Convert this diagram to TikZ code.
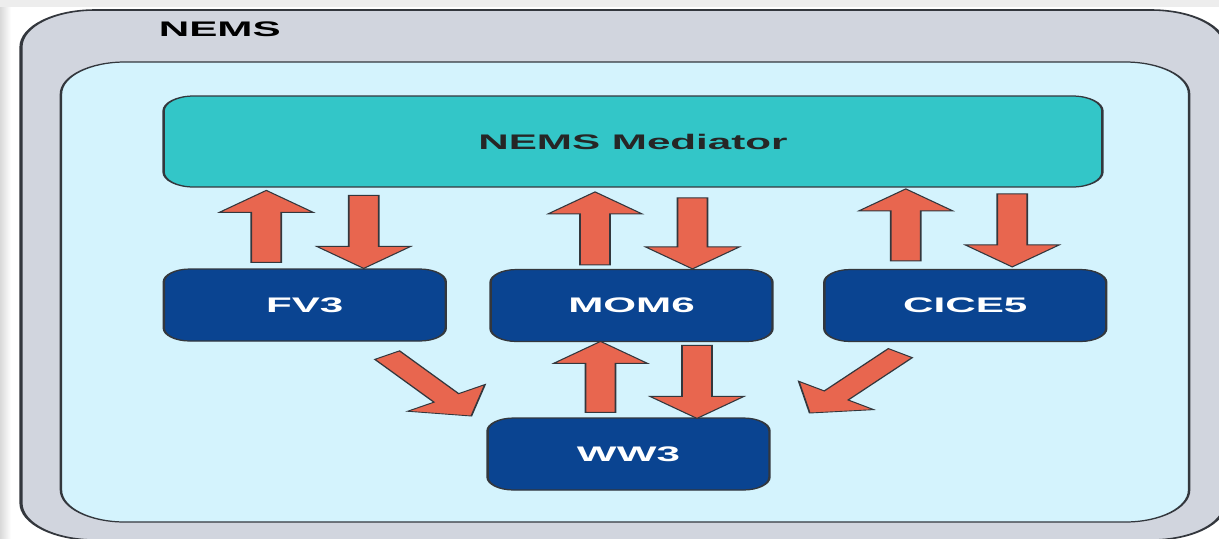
\documentclass[tikz,border=0pt]{standalone}
\usepackage{fontspec}
\setsansfont{Liberation Sans}
\usetikzlibrary{calc}

\definecolor{nemsgray}{HTML}{D1D5DE}
\definecolor{corecyan}{HTML}{D4F3FD}
\definecolor{medteal}{HTML}{33C6C8}
\definecolor{compblue}{HTML}{0A4491}
\definecolor{flowred}{HTML}{E8664F}
\definecolor{edgegray}{HTML}{33373D}

% block arrow: #1 = tail, #2 = tip
\newcommand{\blockarrow}[2]{%
    \coordinate (ba-a) at #1;
    \coordinate (ba-b) at #2;
    \coordinate (ba-c) at ($(ba-b)!\headlen!(ba-a)$);
    \draw[flow] ($(ba-a)!\shafthw!90:(ba-b)$) -- ($(ba-c)!\shafthw!90:(ba-b)$)
        -- ($(ba-c)!\headhw!90:(ba-b)$) -- (ba-b)
        -- ($(ba-c)!\headhw!-90:(ba-b)$) -- ($(ba-c)!\shafthw!-90:(ba-b)$)
        -- ($(ba-a)!\shafthw!-90:(ba-b)$) -- cycle;
}

\begin{document}
\begin{tikzpicture}[x=0.02cm, y=-0.02cm,
    frame/.style={draw=edgegray, line width=0.7pt},
    comp/.style={frame, fill=compblue, rounded corners=0.26cm, inner sep=0pt,
        minimum width=2.82cm, minimum height=1.44cm, text=white,
        font=\sffamily\bfseries\fontsize{12}{14}\selectfont},
    med/.style={frame, fill=medteal, rounded corners=0.3cm, inner sep=0pt,
        minimum width=9.39cm, minimum height=1.82cm, text=black!85,
        font=\sffamily\bfseries\fontsize{12}{14}\selectfont},
    flow/.style={draw=edgegray, line width=0.5pt, fill=flowred, line join=miter}]

    % --- arrow parameters ---
    \def\shafthw{0.15cm}   % half width of the shaft
    \def\headhw{0.47cm}    % half width of the head
    \def\headlen{0.44cm}   % length of the head

    % --- slide background ---
    \fill[white] (0,0) rectangle (1219,538);
    \shade[left color=black!15, right color=white] (0,0) rectangle (11,538);
    \fill[black!7] (0,0) rectangle (1219,7);
    \useasboundingbox (0,0) rectangle (1219,538);

    % the slide is stretched to twice its width
    \begin{scope}[transform canvas={xscale=2}, x=0.01cm]

    % --- frames ---
    \draw[frame, line width=0.9pt, fill=nemsgray, rounded corners=0.74cm] (21,10) rectangle (1226,540);
    \node[font=\sffamily\bfseries\fontsize{12}{14}\selectfont] (nemslabel) at (220,29.5) {NEMS};
    \draw[frame, fill=corecyan, rounded corners=0.64cm] (61,62) rectangle (1190,522);

    % --- mediator and components ---
    \node[med] (med) at (633.5,141.5) {NEMS Mediator};
    \node[comp] (fv3) at (305,305) {FV3};
    \node[comp] (mom6) at (632,305.5) {MOM6};
    \node[comp] (cice5) at (966,305.5) {CICE5};
    \node[comp] (ww3) at (629,454) {WW3};

    % --- exchanges with the mediator ---
    \blockarrow{($(fv3.north)+(-38.5,-6)$)}{($(fv3.north)+(-38.5,-78)$)}
    \blockarrow{($(fv3.north)+(59,-73)$)}{($(fv3.north)+(59,0)$)}
    \blockarrow{($(mom6.north)+(-36.5,-4)$)}{($(mom6.north)+(-36.5,-77)$)}
    \blockarrow{($(mom6.north)+(61,-71)$)}{($(mom6.north)+(61,0)$)}
    \blockarrow{($(cice5.north)+(-59.5,-8)$)}{($(cice5.north)+(-59.5,-80)$)}
    \blockarrow{($(cice5.north)+(47,-75)$)}{($(cice5.north)+(47,-2)$)}

    % --- exchanges with the wave model ---
    \blockarrow{($(ww3.north)+(-28,-5)$)}{($(ww3.north)+(-28,-76)$)}
    \blockarrow{($(ww3.north)+(68.5,-72)$)}{($(ww3.north)+(68.5,1)$)}
    \blockarrow{($(fv3.south)+(82.5,13.5)$)}{($(ww3.west)+(-15,-38)$)}
    \blockarrow{($(cice5.south)+(-65,11)$)}{($(ww3.east)+(39,-41)$)}

    \end{scope}

\end{tikzpicture}
\end{document}
